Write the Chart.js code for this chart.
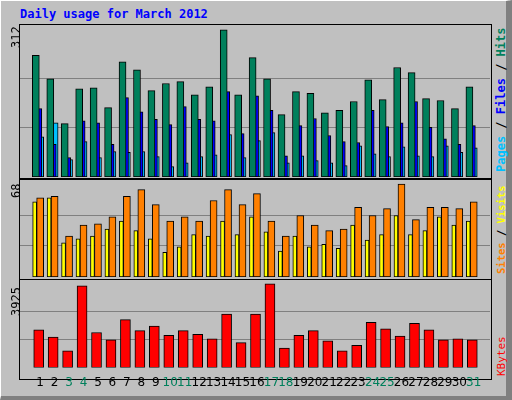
<!DOCTYPE html>
<html><head><meta charset="utf-8">
<script src="https://cdn.jsdelivr.net/npm/chart.js@4"></script>
<style>
html,body{margin:0;padding:0;}
body{width:512px;height:400px;background:#C0C0C0;position:relative;overflow:hidden;font-family:"DejaVu Sans",sans-serif;}
#outer{position:absolute;left:0;top:0;border-left:1px solid #fff;border-top:1px solid #fff;border-right:6px solid #808080;border-bottom:4px solid #808080;box-sizing:border-box;width:512px;height:400px;}
.frame{position:absolute;border:1px solid #000;box-sizing:border-box;left:19px;width:473px;}
canvas{position:absolute;left:20px;}
.rot{position:absolute;transform-origin:left top;transform:rotate(-90deg);white-space:nowrap;font-family:"DejaVu Sans Mono",monospace;font-size:12px;}
#title{position:absolute;left:20px;top:7px;color:#0000FF;font:bold 12px "DejaVu Sans Mono",monospace;}
</style></head><body>
<div id="outer"></div>
<div id="title">Daily usage for March 2012</div>
<div class="frame" style="top:24px;height:155px"></div>
<div class="frame" style="top:179px;height:101px"></div>
<div class="frame" style="top:279px;height:101px"></div>
<canvas id="c1" width="470" height="152" style="top:25px;width:470px;height:152px"></canvas>
<canvas id="c2" width="470" height="97" style="top:180px;width:470px;height:97px"></canvas>
<canvas id="c3" width="470" height="120" style="top:280px;width:470px;height:120px"></canvas>
<div class="rot" style="left:9px;top:48px;">312</div>
<div class="rot" style="left:9px;top:198px;">68</div>
<div class="rot" style="left:9px;top:316px;">3925</div>
<div class="rot" style="left:494px;top:172px;font-weight:bold;"><span style="color:#00C0FF">Pages</span> / <span style="color:#0000FF">Files</span> / <span style="color:#00805C">Hits</span></div>
<div class="rot" style="left:495px;top:274px;font-size:10.5px;font-weight:bold;"><span style="color:#FF8000">Sites</span> / <span style="color:#FFFF00">Visits</span></div>
<div class="rot" style="left:495px;top:376px;font-size:11px;"><span style="color:#FF0000">KBytes</span></div>
<script>
const days=[1,2,3,4,5,6,7,8,9,10,11,12,13,14,15,16,17,18,19,20,21,22,23,24,25,26,27,28,29,30,31];
const weekendDays=[3,4,10,11,17,18,24,25,31];
const hits=[258,208,113,187,189,147,244,227,183,198,202,174,191,312,174,253,208,132,181,177,136,141,160,206,164,232,221,166,162,145,191];
const files=[145,69,41,119,115,69,168,138,122,111,149,122,119,181,92,172,141,45,109,124,88,75,73,141,107,115,160,105,81,69,109];
const pages=[85,115,37,75,41,54,52,54,43,22,30,43,47,90,41,77,94,30,45,35,30,24,66,49,43,64,45,43,66,52,62];
const sites=[55,58,25,28,30,35,41,34,28,18,22,31,30,41,31,44,33,19,30,22,24,21,38,27,31,45,31,34,44,38,41];
const visits=[58,59,30,38,39,44,59,64,53,41,44,41,56,64,53,61,41,30,45,38,34,35,51,45,50,68,42,51,51,50,55];
const kbytes=[1776,1432,788,3838,1647,1303,2248,1733,1948,1518,1733,1561,1346,2506,1174,2506,3925,916,1518,1733,1260,788,1045,2119,1819,1475,2076,1776,1303,1346,1303];

function ds(vals,off,color,w){
  return {data:days.map((d,i)=>({x:d+off,y:vals[i]})),backgroundColor:color,borderColor:'#000',borderWidth:1,borderSkipped:false,barThickness:w,grouped:false};
}
function opts(max,grid,showX){
  return {animation:false,responsive:false,events:[],
    layout:{autoPadding:false,padding:{left:0,right:0,top:0,bottom:showX?2:0}},
    plugins:{legend:{display:false},tooltip:{enabled:false}},
    scales:{
      x:{type:'linear',min:0.13,max:31.6,display:showX,
        afterBuildTicks:a=>{a.ticks=days.map(v=>({value:v}));},
        grid:{display:false,drawTicks:false},border:{display:false},
        ticks:{autoSkip:false,maxRotation:0,padding:8,font:{family:'DejaVu Sans',size:12},
          color:c=>weekendDays.includes(c.tick.value)?'#00805C':'#000'}},
      y:{min:0,max:max,afterBuildTicks:a=>{a.ticks=grid.map(v=>({value:v}));},
        afterFit:s=>{s.width=0;},
        ticks:{display:false,padding:0},border:{display:false},
        grid:{color:'#808080',lineWidth:1,drawTicks:false}}
    }};
}
new Chart(document.getElementById('c1'),{type:'bar',data:{datasets:[
  ds(hits,-0.3,'#00805C',7),ds(files,-0.13,'#0000FF',7),ds(pages,0,'#00C0FF',7)]},options:opts(322,[104,208],false)});
new Chart(document.getElementById('c2'),{type:'bar',data:{datasets:[
  ds(visits,0,'#FF8000',7),ds(sites,-0.38,'#FFFF00',4)]},options:opts(71,[22.7,45.3],false)});
new Chart(document.getElementById('c3'),{type:'bar',data:{datasets:[
  ds(kbytes,-0.1,'#FF0000',10)]},options:opts(4110,[1308,2617],true)});
</script>
</body></html>
